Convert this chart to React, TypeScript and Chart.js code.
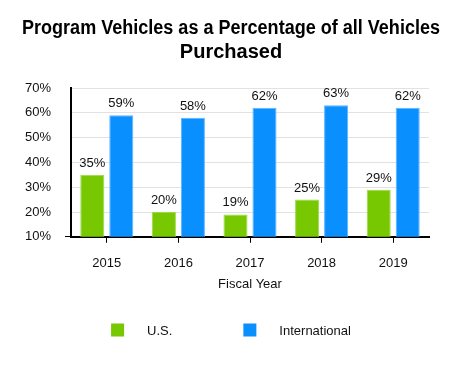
import React, { useEffect, useRef } from "react";
import { Chart, registerables } from "chart.js";

Chart.register(...registerables);

const categories = ["2015", "2016", "2017", "2018", "2019"];
const usValues = [35, 20, 19, 25, 29];
const intlValues = [59, 58, 62, 63, 62];
const yTicks = [10, 20, 30, 40, 50, 60, 70];
const seriesNames = ["U.S.", "International"];
const seriesColors = ["#77C800", "#0A8FFF"];
const seriesBorders = ["#9BDA4A", "#5CB4FF"];

const FONT = "'Liberation Sans', Arial, sans-serif";

const barLabels = {
  id: "barLabels",
  afterDatasetsDraw(chart: any) {
    const ctx = chart.ctx;
    ctx.save();
    ctx.font = `13px ${FONT}`;
    ctx.fillStyle = "#111";
    ctx.textAlign = "center";
    ctx.textBaseline = "alphabetic";
    chart.data.datasets.forEach((ds: any, i: number) => {
      const meta = chart.getDatasetMeta(i);
      meta.data.forEach((bar: any, j: number) => {
        ctx.fillText(`${ds.data[j]}%`, bar.x, bar.y - 8);
      });
    });
    ctx.restore();
  },
};

const customLegend = {
  id: "customLegend",
  afterDraw(chart: any) {
    const ctx = chart.ctx;
    ctx.save();
    ctx.font = `13px ${FONT}`;
    const box = 13;
    const textGap = 23;
    const itemGap = 71;
    const items = chart.data.datasets.map((ds: any) => ({
      label: ds.label,
      color: ds.backgroundColor,
      w: box + textGap + ctx.measureText(ds.label).width,
    }));
    const total = items.reduce((s: number, it: any) => s + it.w, 0) + itemGap * (items.length - 1);
    let x = chart.width / 2 - total / 2;
    const cy = chart.height - 36;
    ctx.textBaseline = "middle";
    ctx.textAlign = "left";
    items.forEach((it: any) => {
      ctx.fillStyle = it.color;
      ctx.fillRect(x, cy - box / 2, box, box);
      ctx.fillStyle = "#111";
      ctx.fillText(it.label, x + box + textGap, cy + 1);
      x += it.w + itemGap;
    });
    ctx.restore();
  },
};

export default function App() {
  const ref = useRef<HTMLCanvasElement>(null);
  useEffect(() => {
    document.body.style.margin = "0";
    const chart = new Chart(ref.current!, {
      type: "bar",
      data: {
        labels: categories,
        datasets: [usValues, intlValues].map((vals, i) => ({
          label: seriesNames[i],
          data: vals,
          backgroundColor: seriesColors[i],
          borderColor: seriesBorders[i],
          borderWidth: 1,
          categoryPercentage: 0.81,
          barPercentage: 0.83,
        })),
      },
      plugins: [barLabels, customLegend],
      options: {
        animation: false,
        responsive: false,
        layout: { padding: { left: 22, right: 22, top: 6, bottom: 74 } },
        plugins: {
          title: {
            display: true,
            text: ["Program Vehicles as a Percentage of all Vehicles", "Purchased"],
            font: { family: FONT, size: 20, weight: "bold" },
            color: "#000",
            padding: { top: 10, bottom: 24 },
            lineHeight: 1.06,
          },
          legend: { display: false },
          tooltip: { enabled: false },
        },
        scales: {
          x: {
            grid: {
              display: true,
              drawOnChartArea: false,
              drawTicks: true,
              tickLength: 6,
              tickColor: "#000",
              offset: false,
            },
            border: { display: true, color: "#000", width: 2 },
            ticks: { color: "#111", font: { family: FONT, size: 13 }, padding: 13 },
            title: {
              display: true,
              text: "Fiscal Year",
              color: "#111",
              font: { family: FONT, size: 13 },
              padding: { top: -8, bottom: 0 },
            },
          },
          y: {
            min: 10,
            max: 70,
            afterBuildTicks: (axis: any) => {
              axis.ticks = yTicks.map((v) => ({ value: v }));
            },
            afterFit: (axis: any) => {
              axis.width = 49;
            },
            grid: {
              color: "#E2E2E2",
              drawTicks: true,
              tickLength: 6,
              tickColor: (c: any) => (c.tick && c.tick.value === 10 ? "#000" : "rgba(0,0,0,0)"),
            },
            border: { display: true, color: "#000", width: 2 },
            ticks: {
              color: "#111",
              font: { family: FONT, size: 13 },
              padding: 14,
              callback: (v: any) => `${v}%`,
            },
          },
          yRight: {
            position: "right",
            display: true,
            grid: { display: false, drawTicks: false },
            border: { display: false },
            ticks: { display: false },
            afterFit: (axis: any) => {
              axis.width = 11;
            },
          },
        },
      },
    });
    return () => chart.destroy();
  }, []);
  return <canvas ref={ref} width={462} height={366} style={{ display: "block" }} />;
}
